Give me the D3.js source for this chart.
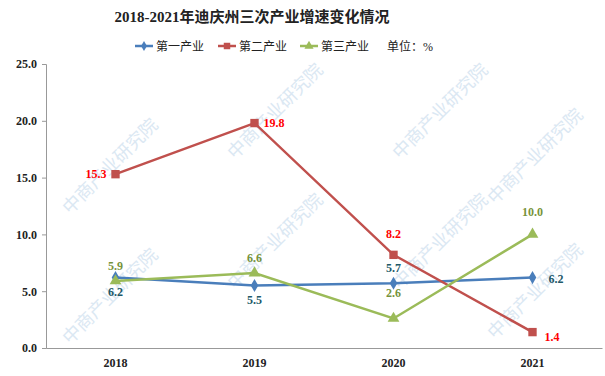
<!DOCTYPE html>
<html>
<head>
<meta charset="utf-8">
<script src="https://cdn.jsdelivr.net/npm/d3@7"></script>
<style>
  body { margin: 0; background: #fff; }
  text { font-family: "Liberation Serif", "Noto Sans CJK SC", serif; }
</style>
</head>
<body>
<div id="chart"></div>
<script>
const years = ["2018", "2019", "2020", "2021"];
const primary = [6.2, 5.5, 5.7, 6.2];
const secondary = [15.3, 19.8, 8.2, 1.4];
const tertiary = [5.9, 6.6, 2.6, 10.0];
const yTicks = [0, 5, 10, 15, 20, 25];

const width = 605, height = 376;
const margin = { top: 64, right: 3, bottom: 28, left: 46 };

const svg = d3.select("#chart").append("svg")
  .attr("width", width)
  .attr("height", height);

// faint watermark, kept inside the frame
const wm = svg.append("g").attr("fill", "#dbe8f3").attr("font-size", 18)
  .attr("font-family", "Noto Sans CJK SC");
[[70, 215], [70, 345], [235, 160], [235, 290], [400, 160], [400, 290], [495, 205], [495, 340]].forEach(([x, y]) => {
  wm.append("text").attr("transform", `translate(${x},${y}) rotate(-45)`).text("中商产业研究院");
});

const x = d3.scaleBand()
  .domain(years)
  .range([margin.left, width - margin.right]);

const y = d3.scaleLinear()
  .domain([0, 25])
  .range([height - margin.bottom, margin.top]);

// title
svg.append("text")
  .attr("x", 252).attr("y", 22)
  .attr("text-anchor", "middle")
  .attr("font-size", 15).attr("font-weight", "bold")
  .attr("fill", "#222")
  .text("2018-2021年迪庆州三次产业增速变化情况");

// axes
const yAxis = d3.axisLeft(y).tickValues(yTicks).tickFormat(d3.format(".1f")).tickSize(4);
const gy = svg.append("g").attr("transform", `translate(${margin.left},0)`).call(yAxis);
gy.select(".domain").attr("stroke", "#999");
gy.selectAll(".tick line").attr("stroke", "#999");
gy.selectAll(".tick text")
  .attr("font-size", 12).attr("font-weight", "bold").attr("fill", "#222")
  .attr("font-family", "Liberation Serif").attr("x", -9);

const xAxis = d3.axisBottom(x).tickSize(0);
const gx = svg.append("g").attr("transform", `translate(0,${y(0)})`).call(xAxis);
gx.select(".domain").attr("stroke", "#999");
gx.selectAll(".tick text")
  .attr("font-size", 12).attr("font-weight", "bold").attr("fill", "#222")
  .attr("font-family", "Liberation Serif").attr("dy", "1.3em");

const cx = d => x(d) + x.bandwidth() / 2;

const series = [
  { name: "第一产业", values: primary, color: "#4a7ebb", label: "#215868", shape: d3.symbolDiamond, size: 50,
    offs: [[0, 18], [0, 18], [0, -11], [16, 5]], anchor: ["middle", "middle", "middle", "start"] },
  { name: "第二产业", values: secondary, color: "#c0504d", label: "#ff0000", shape: d3.symbolSquare, size: 70,
    offs: [[-9, 4], [9, 4], [0, -17], [12, 9]], anchor: ["end", "start", "middle", "start"] },
  { name: "第三产业", values: tertiary, color: "#9bbb59", label: "#77933c", shape: d3.symbolTriangle, size: 60,
    offs: [[0, -11], [0, -11], [0, -21], [0, -18]], anchor: ["middle", "middle", "middle", "middle"] }
];

const line = d3.line().x((d, i) => cx(years[i])).y(d => y(d));

series.forEach(s => {
  svg.append("path")
    .datum(s.values)
    .attr("fill", "none")
    .attr("stroke", s.color)
    .attr("stroke-width", 2.5)
    .attr("d", line);
  svg.selectAll(null).data(s.values).join("path")
    .attr("transform", (d, i) => `translate(${cx(years[i])},${y(d)})`)
    .attr("d", d3.symbol().type(s.shape).size(s.size))
    .attr("fill", s.color);
});

series.forEach(s => {
  svg.selectAll(null).data(s.values).join("text")
    .attr("x", (d, i) => cx(years[i]) + s.offs[i][0])
    .attr("y", (d, i) => y(d) + s.offs[i][1])
    .attr("text-anchor", (d, i) => s.anchor[i])
    .attr("font-size", 12).attr("font-weight", "bold")
    .attr("font-family", "Liberation Serif")
    .attr("fill", s.label)
    .text(d => d.toFixed(1));
});

// legend
const legendX = [135, 218, 300];
const lg = svg.append("g");
series.forEach((s, i) => {
  const g = lg.append("g").attr("transform", `translate(${legendX[i]},46)`);
  g.append("line").attr("x1", 0).attr("x2", 18).attr("stroke", s.color).attr("stroke-width", 2.5);
  g.append("path").attr("transform", "translate(9,0)")
    .attr("d", d3.symbol().type(s.shape).size(s.size * 0.6)).attr("fill", s.color);
  g.append("text").attr("x", 21).attr("y", 4.5)
    .attr("font-size", 12).attr("fill", "#222")
    .attr("font-family", "Noto Sans CJK SC")
    .text(s.name);
});
lg.append("text").attr("x", 387).attr("y", 50.5)
  .attr("font-size", 12).attr("fill", "#222")
  .attr("font-family", "Noto Sans CJK SC")
  .text("单位：%");
</script>
</body>
</html>
